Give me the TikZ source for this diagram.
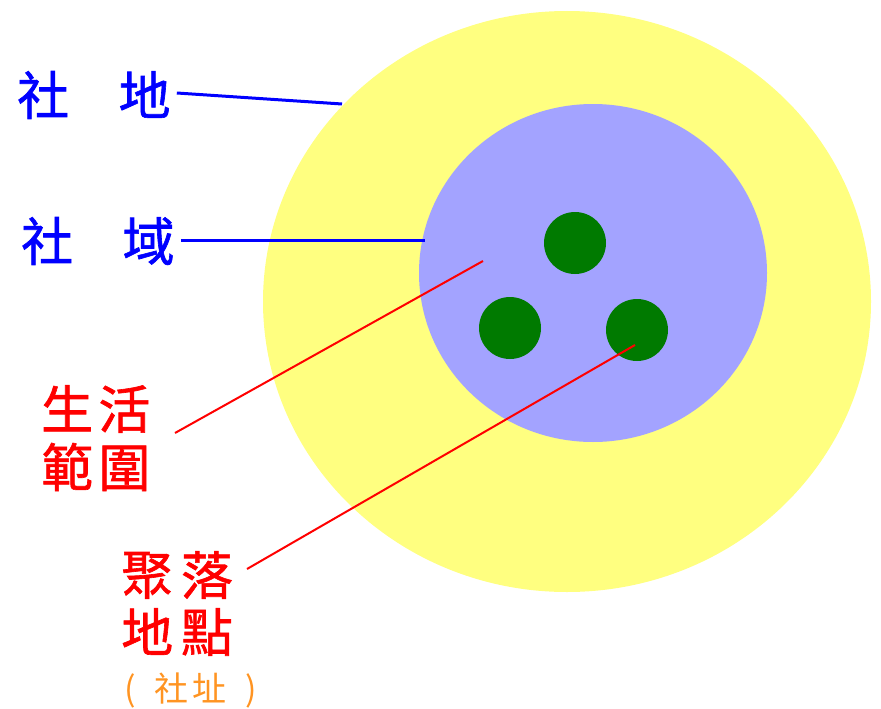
\documentclass[tikz,border=0pt]{standalone}
\usepackage{fontspec}
\newfontfamily\cjk{Noto Sans CJK TC}[FakeBold=1.2]
\newfontfamily\cjks{Noto Sans CJK TC}
\definecolor{outerY}{HTML}{FFFF80}
\definecolor{innerB}{HTML}{A3A3FF}
\definecolor{dotG}{HTML}{007A00}
\definecolor{lblB}{HTML}{0000FF}
\definecolor{lblR}{HTML}{FF0000}
\definecolor{lblO}{HTML}{FF9422}
\begin{document}
\begin{tikzpicture}[x=1pt,y=-1pt,
  lbl/.style={inner sep=0pt,font=\cjk\fontsize{52}{58}\selectfont},
  small/.style={inner sep=0pt,font=\cjks\fontsize{34}{38}\selectfont},
  bline/.style={draw=lblB,line width=3pt},
  rline/.style={draw=lblR,line width=2pt}]
\useasboundingbox (0,0) rectangle (881,709);
\fill[outerY] (567,301.5) ellipse [x radius=304, y radius=290.5];
\fill[innerB] (593,273) ellipse [x radius=174, y radius=169];
\fill[dotG] (575,243) circle (31);
\fill[dotG] (510,328) circle (31);
\fill[dotG] (637,330) circle (31);
\node[lbl,text=lblB,anchor=west] (sd) at (17,95) {社\hspace{0.95em}地};
\node[lbl,text=lblB,anchor=west] (sy) at (21,241) {社\hspace{0.95em}域};
\node[lbl,text=lblR,anchor=west] (sh1) at (41,409) {生\hspace{0.1em}活};
\node[lbl,text=lblR,anchor=west] (sh2) at (41,467) {範\hspace{0.1em}圍};
\node[lbl,text=lblR,anchor=west] (jl1) at (121,575) {聚\hspace{0.15em}落};
\node[lbl,text=lblR,anchor=west] (jl2) at (121,632) {地\hspace{0.15em}點};
\node[small,text=lblO,anchor=west] (sz) at (124,690) {(\hspace{0.55em}社\hspace{0.12em}址\hspace{0.55em})};
\coordinate (sdE) at (342,104);
\coordinate (syE) at (425,240);
\coordinate (shE) at (483,261);
\coordinate (jlE) at (635,345);
\draw[bline] (sd.east) ++(6,-2) -- (sdE);
\draw[bline] (sy.east) ++(6,-1) -- (syE);
\draw[rline] (175,433) -- (shE);
\draw[rline] (247,569) -- (jlE);
\end{tikzpicture}
\end{document}
